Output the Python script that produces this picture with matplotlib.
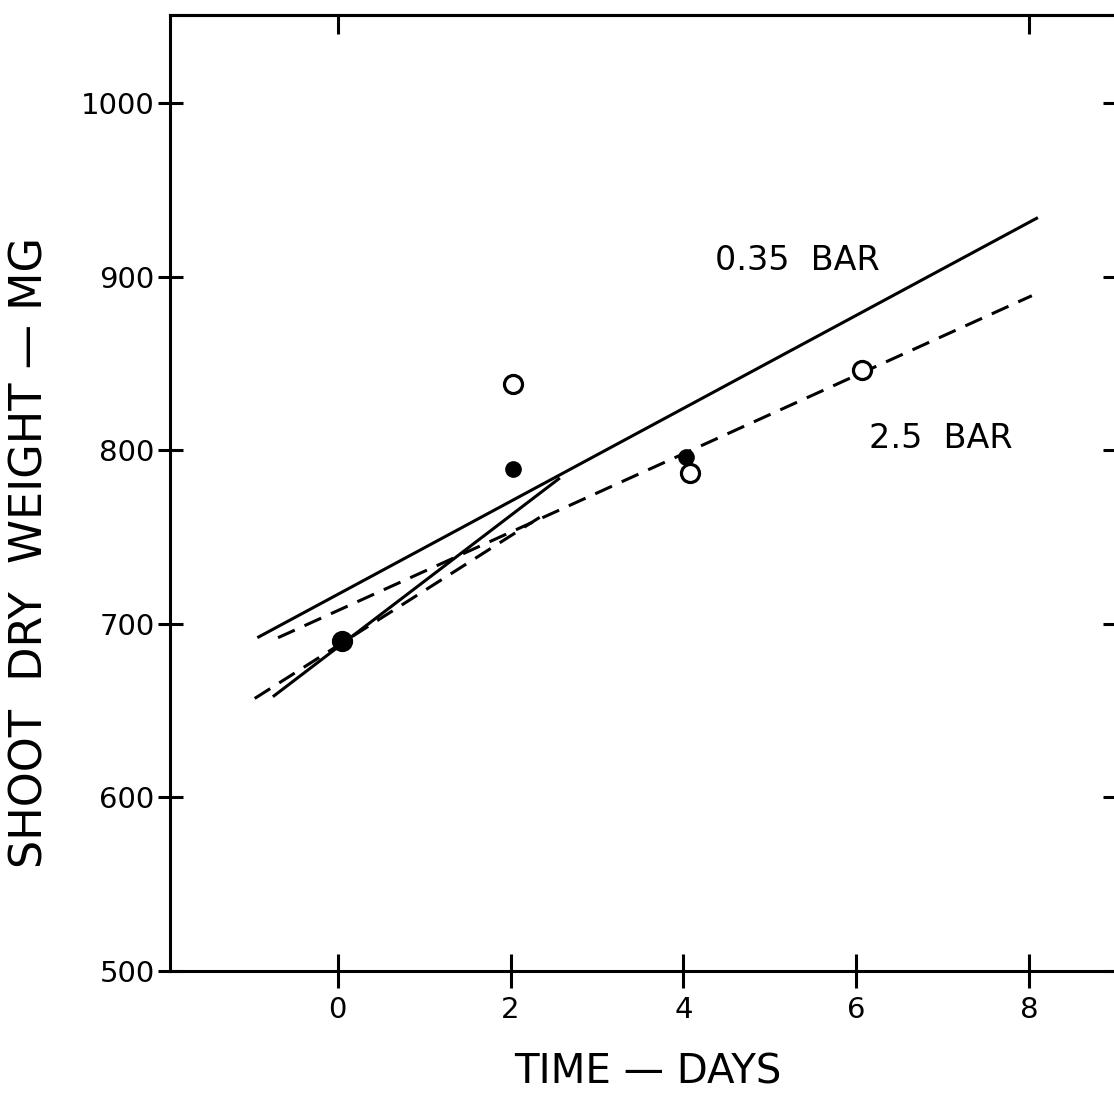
import matplotlib
matplotlib.use("Agg")
import matplotlib.pyplot as plt

# observed points (day, mg)
open_days = [0.05, 2.03, 4.07, 6.06]
open_mg = [690, 838, 787, 846]
filled_days = [0.05, 2.03, 4.03]
filled_mg = [690, 789, 796]

# fitted lines (endpoints)
bar035_days = [-0.93, 8.1]
bar035_mg = [692, 934]
bar035_early_days = [-0.75, 2.57]
bar035_early_mg = [658, 784]
bar25_days = [-0.69, 8.03]
bar25_mg = [692, 889]
bar25_early_days = [-0.96, 2.39]
bar25_early_mg = [657, 763]

x_ticks = [0, 2, 4, 6, 8]
top_ticks = [0, 8]
y_ticks = [500, 600, 700, 800, 900, 1000]

plt.rcParams["font.family"] = ["DejaVu Sans"]

W, H = 1114, 1095
fig = plt.figure(figsize=(W / 100, H / 100), dpi=100)
ax = fig.add_axes([170 / W, (H - 971) / H, (1120 - 170) / W, (971 - 15) / H])

lw = 2.2
dash = (6, 3.5)
ax.plot(bar035_days, bar035_mg, color="black", lw=lw, solid_capstyle="butt")
ax.plot(bar035_early_days, bar035_early_mg, color="black", lw=lw, solid_capstyle="butt")
ax.plot(bar25_days, bar25_mg, color="black", lw=lw, dashes=dash)
ax.plot(bar25_early_days, bar25_early_mg, color="black", lw=lw, dashes=dash)

ax.plot(open_days, open_mg, "o", ms=13, mfc="white", mec="black", mew=2.3, zorder=3)
ax.plot(filled_days, filled_mg, "o", ms=11, mfc="black", mec="black", zorder=4)

ax.text(4.36, 904, "0.35  BAR", fontsize=24, ha="left", va="baseline")
ax.text(6.15, 801, "2.5  BAR", fontsize=24, ha="left", va="baseline")

ax.set_xlim(-1.94, 9.05)
ax.set_ylim(500, 1050.7)
ax.set_xticks(x_ticks)
ax.set_yticks(y_ticks)
for s in ax.spines.values():
    s.set_linewidth(2.2)

ax.tick_params(axis="x", direction="inout", length=24, width=2.2,
               labelsize=21, pad=6)
ax.tick_params(axis="y", direction="inout", length=18, width=2.2,
               labelsize=21, pad=2)

# inward-only ticks on the top and right frame
top = ax.secondary_xaxis("top")
top.set_xticks(top_ticks)
top.tick_params(direction="in", length=14, width=2.2, labeltop=False)
top.spines["top"].set_linewidth(2.2)
right = ax.secondary_yaxis("right")
right.set_yticks(y_ticks)
right.tick_params(direction="in", length=12, width=2.2, labelright=False)
right.spines["right"].set_linewidth(2.2)

fig.text(648 / W, 1 - 1072 / H, "TIME — DAYS", fontsize=29, ha="center", va="center")
fig.text(30 / W, 1 - 552 / H, "SHOOT  DRY  WEIGHT — MG", fontsize=32,
         rotation=90, ha="center", va="center")

fig.savefig("out.png", dpi=100)
plt.close(fig)
